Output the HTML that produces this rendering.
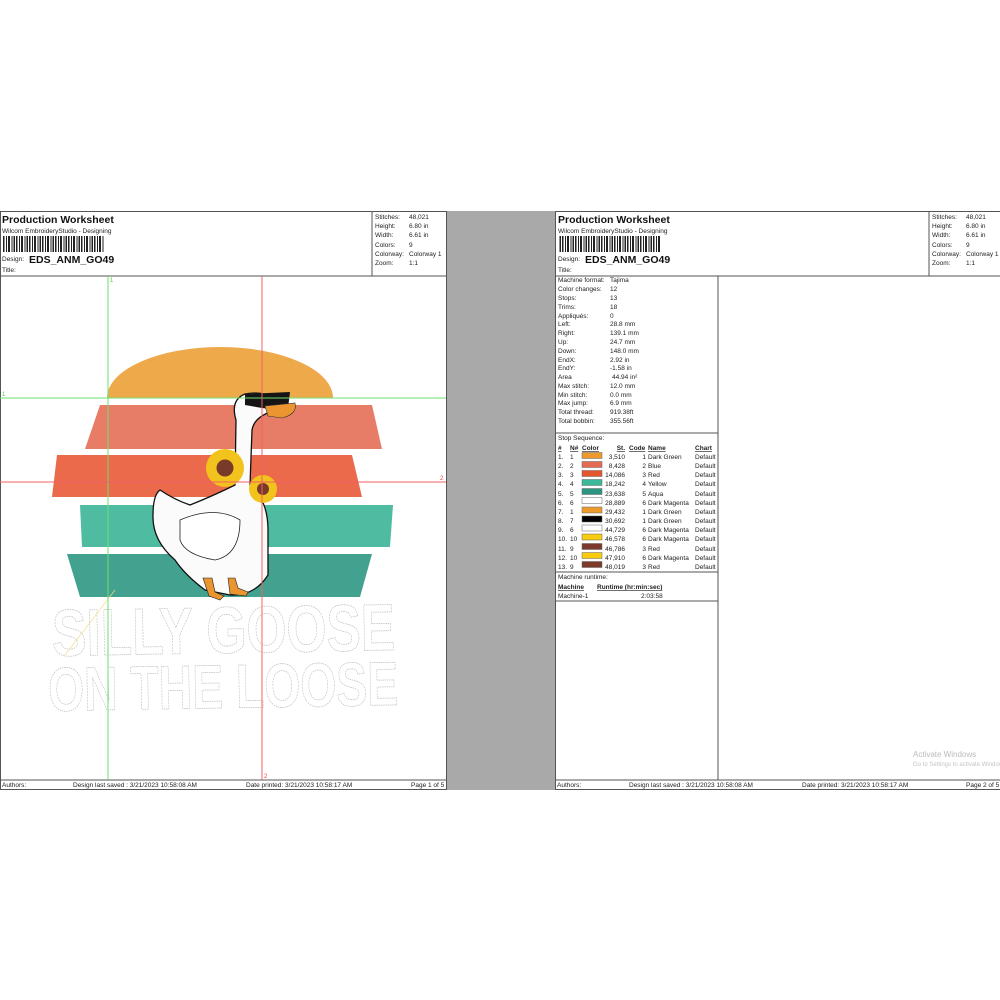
<!DOCTYPE html>
<html><head><meta charset="utf-8"><style>
html,body{margin:0;padding:0;background:#fff}
svg{display:block}
text{font-family:"Liberation Sans",Arial,sans-serif}
</style></head><body>
<svg width="1000" height="1000" viewBox="0 0 1000 1000" xmlns="http://www.w3.org/2000/svg">
<defs>
<pattern id="bc" x="3" y="0" width="13" height="20" patternUnits="userSpaceOnUse">
<rect x="0" y="0" width="1.5" height="20" fill="#222"/><rect x="3" y="0" width="1" height="20" fill="#222"/><rect x="5" y="0" width="2" height="20" fill="#222"/><rect x="8.5" y="0" width="1" height="20" fill="#222"/><rect x="10.5" y="0" width="1.5" height="20" fill="#222"/>
</pattern>
</defs>
<rect x="447" y="211" width="108" height="579" fill="#a9a9a9"/>
<g fill="#222">
<rect x="0.5" y="211.5" width="446" height="578" fill="#fff" stroke="#555" stroke-width="1"/>
<line x1="0" y1="276" x2="447" y2="276" stroke="#555"/>
<line x1="372" y1="211" x2="372" y2="276" stroke="#555"/>
<line x1="0" y1="780" x2="447" y2="780" stroke="#555"/>
<text x="2" y="223" font-size="10.5" font-weight="bold" fill="#111">Production Worksheet</text>
<text x="2" y="233" font-size="6.5">Wilcom EmbroideryStudio - Designing</text>
<rect x="3" y="236" width="101" height="16" fill="url(#bc)"/>
<text x="2" y="261" font-size="6.5">Design:</text>
<text x="29" y="263" font-size="10.5" font-weight="bold" fill="#111">EDS_ANM_GO49</text>
<text x="2" y="272" font-size="6.5">Title:</text>
<g font-size="6.5">
<text x="375" y="219">Stitches:</text><text x="409" y="219">48,021</text>
<text x="375" y="228">Height:</text><text x="409" y="228">6.80 in</text>
<text x="375" y="237">Width:</text><text x="409" y="237">6.61 in</text>
<text x="375" y="247">Colors:</text><text x="409" y="247">9</text>
<text x="375" y="256">Colorway:</text><text x="409" y="256">Colorway 1</text>
<text x="375" y="265">Zoom:</text><text x="409" y="265">1:1</text>
</g>
<path d="M107 398 A113 51 0 0 1 333 398 Z" fill="#eda23c" opacity="0.92"/>
<polygon points="100,405 372,405 382,449 85,449" fill="#e56f57" opacity="0.9"/>
<polygon points="57,455 352,455 362,497 52,497" fill="#e85a37" opacity="0.9"/>
<polygon points="80,505 393,505 390,547 82,547" fill="#3cb598" opacity="0.9"/>
<polygon points="67,554 372,554 360,597 80,597" fill="#2f9883" opacity="0.9"/>
<path d="M236 420 Q230 400 245 394 Q262 391 270 397 L270 412 Q254 418 252 430 L250 485 Q268 500 268 530 L268 575 Q255 596 230 595 L205 590 Q185 575 175 560 Q152 540 153 515 Q153 495 160 490 Q175 500 190 505 Q215 495 235 485 Z" fill="#fbfbfb" stroke="#111" stroke-width="1.3"/>
<path d="M245 394 L290 392 L288 408 Q275 410 262 408 L245 405 Z" fill="#151515"/>
<path d="M265 406 L295 403 Q298 414 282 418 L268 416 Z" fill="#eb9530" stroke="#333" stroke-width="0.6"/>
<path d="M180 520 Q215 505 240 520 Q240 555 215 560 Q185 555 180 540 Z" fill="#fff" stroke="#222" stroke-width="0.8"/>
<path d="M203 578 L209 596 L220 600 L224 596 L215 592 L212 578 Z" fill="#eb9530" stroke="#222" stroke-width="0.6"/>
<path d="M228 578 L230 594 L246 596 L248 592 L238 588 L235 578 Z" fill="#eb9530" stroke="#222" stroke-width="0.6"/>
<circle cx="225" cy="468" r="19" fill="#f2c31c"/><circle cx="225" cy="468" r="8.5" fill="#7a3a2a"/>
<circle cx="263" cy="489" r="14" fill="#f2c31c"/><circle cx="263" cy="489" r="6" fill="#7a3a2a"/>
<text x="52" y="653" font-size="66" font-weight="bold" textLength="343" lengthAdjust="spacingAndGlyphs" style="fill:none;stroke:#bcbcbc;stroke-width:0.7;stroke-dasharray:2 1" transform="rotate(-1 220 625)">SILLY GOOSE</text>
<text x="48" y="708" font-size="62" font-weight="bold" textLength="350" lengthAdjust="spacingAndGlyphs" style="fill:none;stroke:#bcbcbc;stroke-width:0.7;stroke-dasharray:2 1" transform="rotate(-1 220 680)">ON THE LOOSE</text>
<line x1="65" y1="655" x2="115" y2="590" stroke="#f5dc8a" stroke-width="0.7"/>
<line x1="108" y1="276" x2="108" y2="780" stroke="#6ee06e" stroke-width="1"/>
<line x1="0" y1="398" x2="446" y2="398" stroke="#6ee06e" stroke-width="1"/>
<line x1="262" y1="276" x2="262" y2="780" stroke="#f06060" stroke-width="1"/>
<line x1="0" y1="482" x2="446" y2="482" stroke="#f06060" stroke-width="1"/>
<text x="110" y="282" font-size="6" fill="#4c4">1</text>
<text x="2" y="396" font-size="6" fill="#4c4">1</text>
<text x="440" y="480" font-size="6" fill="#e44">2</text>
<text x="264" y="778" font-size="6" fill="#e44">2</text>
<g font-size="6.5">
<text x="2" y="787">Authors:</text>
<text x="73" y="787">Design last saved : 3/21/2023 10:58:08 AM</text>
<text x="246" y="787">Date printed: 3/21/2023 10:58:17 AM</text>
<text x="411" y="787">Page 1 of 5</text>
</g>
</g>
<g fill="#222">
<rect x="555.5" y="211.5" width="450" height="578" fill="#fff" stroke="#555"/>
<line x1="555" y1="276" x2="1000" y2="276" stroke="#555"/>
<line x1="929" y1="211" x2="929" y2="276" stroke="#555"/>
<line x1="555" y1="780" x2="1000" y2="780" stroke="#555"/>
<line x1="718" y1="276" x2="718" y2="780" stroke="#555"/>
<line x1="555" y1="433" x2="718" y2="433" stroke="#555"/>
<line x1="555" y1="572" x2="718" y2="572" stroke="#555"/>
<line x1="555" y1="601" x2="718" y2="601" stroke="#555"/>
<text x="558" y="223" font-size="10.5" font-weight="bold" fill="#111">Production Worksheet</text>
<text x="558" y="233" font-size="6.5">Wilcom EmbroideryStudio - Designing</text>
<rect x="559" y="236" width="101" height="16" fill="url(#bc)"/>
<text x="558" y="261" font-size="6.5">Design:</text>
<text x="585" y="263" font-size="10.5" font-weight="bold" fill="#111">EDS_ANM_GO49</text>
<text x="558" y="272" font-size="6.5">Title:</text>
<g font-size="6.5">
<text x="932" y="219">Stitches:</text><text x="966" y="219">48,021</text>
<text x="932" y="228">Height:</text><text x="966" y="228">6.80 in</text>
<text x="932" y="237">Width:</text><text x="966" y="237">6.61 in</text>
<text x="932" y="247">Colors:</text><text x="966" y="247">9</text>
<text x="932" y="256">Colorway:</text><text x="966" y="256">Colorway 1</text>
<text x="932" y="265">Zoom:</text><text x="966" y="265">1:1</text>
</g>
<g font-size="6.5">
<text x="558" y="282">Machine format:</text><text x="610" y="282">Tajima</text>
<text x="558" y="291">Color changes:</text><text x="610" y="291">12</text>
<text x="558" y="300">Stops:</text><text x="610" y="300">13</text>
<text x="558" y="309">Trims:</text><text x="610" y="309">18</text>
<text x="558" y="318">Appliqués:</text><text x="610" y="318">0</text>
<text x="558" y="326">Left:</text><text x="610" y="326">28.8 mm</text>
<text x="558" y="335">Right:</text><text x="610" y="335">139.1 mm</text>
<text x="558" y="344">Up:</text><text x="610" y="344">24.7 mm</text>
<text x="558" y="353">Down:</text><text x="610" y="353">148.0 mm</text>
<text x="558" y="362">EndX:</text><text x="610" y="362">2.92 in</text>
<text x="558" y="370">EndY:</text><text x="610" y="370">-1.58 in</text>
<text x="558" y="379">Area</text><text x="612" y="379">44.94 in²</text>
<text x="558" y="388">Max stitch:</text><text x="610" y="388">12.0 mm</text>
<text x="558" y="397">Min stitch:</text><text x="610" y="397">0.0 mm</text>
<text x="558" y="405">Max jump:</text><text x="610" y="405">6.9 mm</text>
<text x="558" y="414">Total thread:</text><text x="610" y="414">919.38ft</text>
<text x="558" y="423">Total bobbin:</text><text x="610" y="423">355.56ft</text>
<text x="558" y="440">Stop Sequence:</text>
</g>
<g font-size="6.5" font-weight="bold" text-decoration="underline">
<text x="558" y="450">#</text><text x="570" y="450">N#</text><text x="582" y="450">Color</text>
<text x="625" y="450" text-anchor="end">St.</text><text x="629" y="450">Code</text><text x="648" y="450">Name</text><text x="695" y="450">Chart</text>
</g>
<g font-size="6.5">
<rect x="582" y="452.5" width="20" height="6" fill="#ec9a2e" stroke="#666" stroke-width="0.5"/><text x="558" y="459">1.</text><text x="570" y="459">1</text><text x="625" y="459" text-anchor="end">3,510</text><text x="646" y="459" text-anchor="end">1</text><text x="648" y="459">Dark Green</text><text x="695" y="459">Default</text>
<rect x="582" y="461.5" width="20" height="6" fill="#e36a53" stroke="#666" stroke-width="0.5"/><text x="558" y="468">2.</text><text x="570" y="468">2</text><text x="625" y="468" text-anchor="end">8,428</text><text x="646" y="468" text-anchor="end">2</text><text x="648" y="468">Blue</text><text x="695" y="468">Default</text>
<rect x="582" y="470.5" width="20" height="6" fill="#e5552f" stroke="#666" stroke-width="0.5"/><text x="558" y="477">3.</text><text x="570" y="477">3</text><text x="625" y="477" text-anchor="end">14,086</text><text x="646" y="477" text-anchor="end">3</text><text x="648" y="477">Red</text><text x="695" y="477">Default</text>
<rect x="582" y="479.5" width="20" height="6" fill="#3bb79a" stroke="#666" stroke-width="0.5"/><text x="558" y="486">4.</text><text x="570" y="486">4</text><text x="625" y="486" text-anchor="end">18,242</text><text x="646" y="486" text-anchor="end">4</text><text x="648" y="486">Yellow</text><text x="695" y="486">Default</text>
<rect x="582" y="488.5" width="20" height="6" fill="#2d9480" stroke="#666" stroke-width="0.5"/><text x="558" y="496">5.</text><text x="570" y="496">5</text><text x="625" y="496" text-anchor="end">23,638</text><text x="646" y="496" text-anchor="end">5</text><text x="648" y="496">Aqua</text><text x="695" y="496">Default</text>
<rect x="582" y="497.5" width="20" height="6" fill="#fff" stroke="#666" stroke-width="0.5"/><text x="558" y="505">6.</text><text x="570" y="505">6</text><text x="625" y="505" text-anchor="end">28,889</text><text x="646" y="505" text-anchor="end">6</text><text x="648" y="505">Dark Magenta</text><text x="695" y="505">Default</text>
<rect x="582" y="507" width="20" height="6" fill="#ec9a2e" stroke="#666" stroke-width="0.5"/><text x="558" y="514">7.</text><text x="570" y="514">1</text><text x="625" y="514" text-anchor="end">29,432</text><text x="646" y="514" text-anchor="end">1</text><text x="648" y="514">Dark Green</text><text x="695" y="514">Default</text>
<rect x="582" y="516" width="20" height="6" fill="#000" stroke="#666" stroke-width="0.5"/><text x="558" y="523">8.</text><text x="570" y="523">7</text><text x="625" y="523" text-anchor="end">30,692</text><text x="646" y="523" text-anchor="end">1</text><text x="648" y="523">Dark Green</text><text x="695" y="523">Default</text>
<rect x="582" y="525" width="20" height="6" fill="#fff" stroke="#666" stroke-width="0.5"/><text x="558" y="532">9.</text><text x="570" y="532">6</text><text x="625" y="532" text-anchor="end">44,729</text><text x="646" y="532" text-anchor="end">6</text><text x="648" y="532">Dark Magenta</text><text x="695" y="532">Default</text>
<rect x="582" y="534" width="20" height="6" fill="#f8cc10" stroke="#666" stroke-width="0.5"/><text x="558" y="541">10.</text><text x="570" y="541">10</text><text x="625" y="541" text-anchor="end">46,578</text><text x="646" y="541" text-anchor="end">6</text><text x="648" y="541">Dark Magenta</text><text x="695" y="541">Default</text>
<rect x="582" y="543.5" width="20" height="6" fill="#7b3a2c" stroke="#666" stroke-width="0.5"/><text x="558" y="551">11.</text><text x="570" y="551">9</text><text x="625" y="551" text-anchor="end">46,786</text><text x="646" y="551" text-anchor="end">3</text><text x="648" y="551">Red</text><text x="695" y="551">Default</text>
<rect x="582" y="552.5" width="20" height="6" fill="#f8cc10" stroke="#666" stroke-width="0.5"/><text x="558" y="560">12.</text><text x="570" y="560">10</text><text x="625" y="560" text-anchor="end">47,910</text><text x="646" y="560" text-anchor="end">6</text><text x="648" y="560">Dark Magenta</text><text x="695" y="560">Default</text>
<rect x="582" y="561.5" width="20" height="6" fill="#7b3a2c" stroke="#666" stroke-width="0.5"/><text x="558" y="569">13.</text><text x="570" y="569">9</text><text x="625" y="569" text-anchor="end">48,019</text><text x="646" y="569" text-anchor="end">3</text><text x="648" y="569">Red</text><text x="695" y="569">Default</text>
<text x="558" y="579">Machine runtime:</text>
<text x="558" y="589" font-weight="bold" text-decoration="underline">Machine</text>
<text x="597" y="589" font-weight="bold" text-decoration="underline">Runtime (hr:min:sec)</text>
<text x="558" y="598">Machine-1</text><text x="641" y="598">2:03:58</text>
</g>
<text x="913" y="757" font-size="8" fill="#bbb">Activate Windows</text>
<text x="913" y="766" font-size="6" fill="#c4c4c4">Go to Settings to activate Windows.</text>
<g font-size="6.5">
<text x="557" y="787">Authors:</text>
<text x="629" y="787">Design last saved : 3/21/2023 10:58:08 AM</text>
<text x="802" y="787">Date printed: 3/21/2023 10:58:17 AM</text>
<text x="966" y="787">Page 2 of 5</text>
</g>
</g>
</svg>
</body></html>
